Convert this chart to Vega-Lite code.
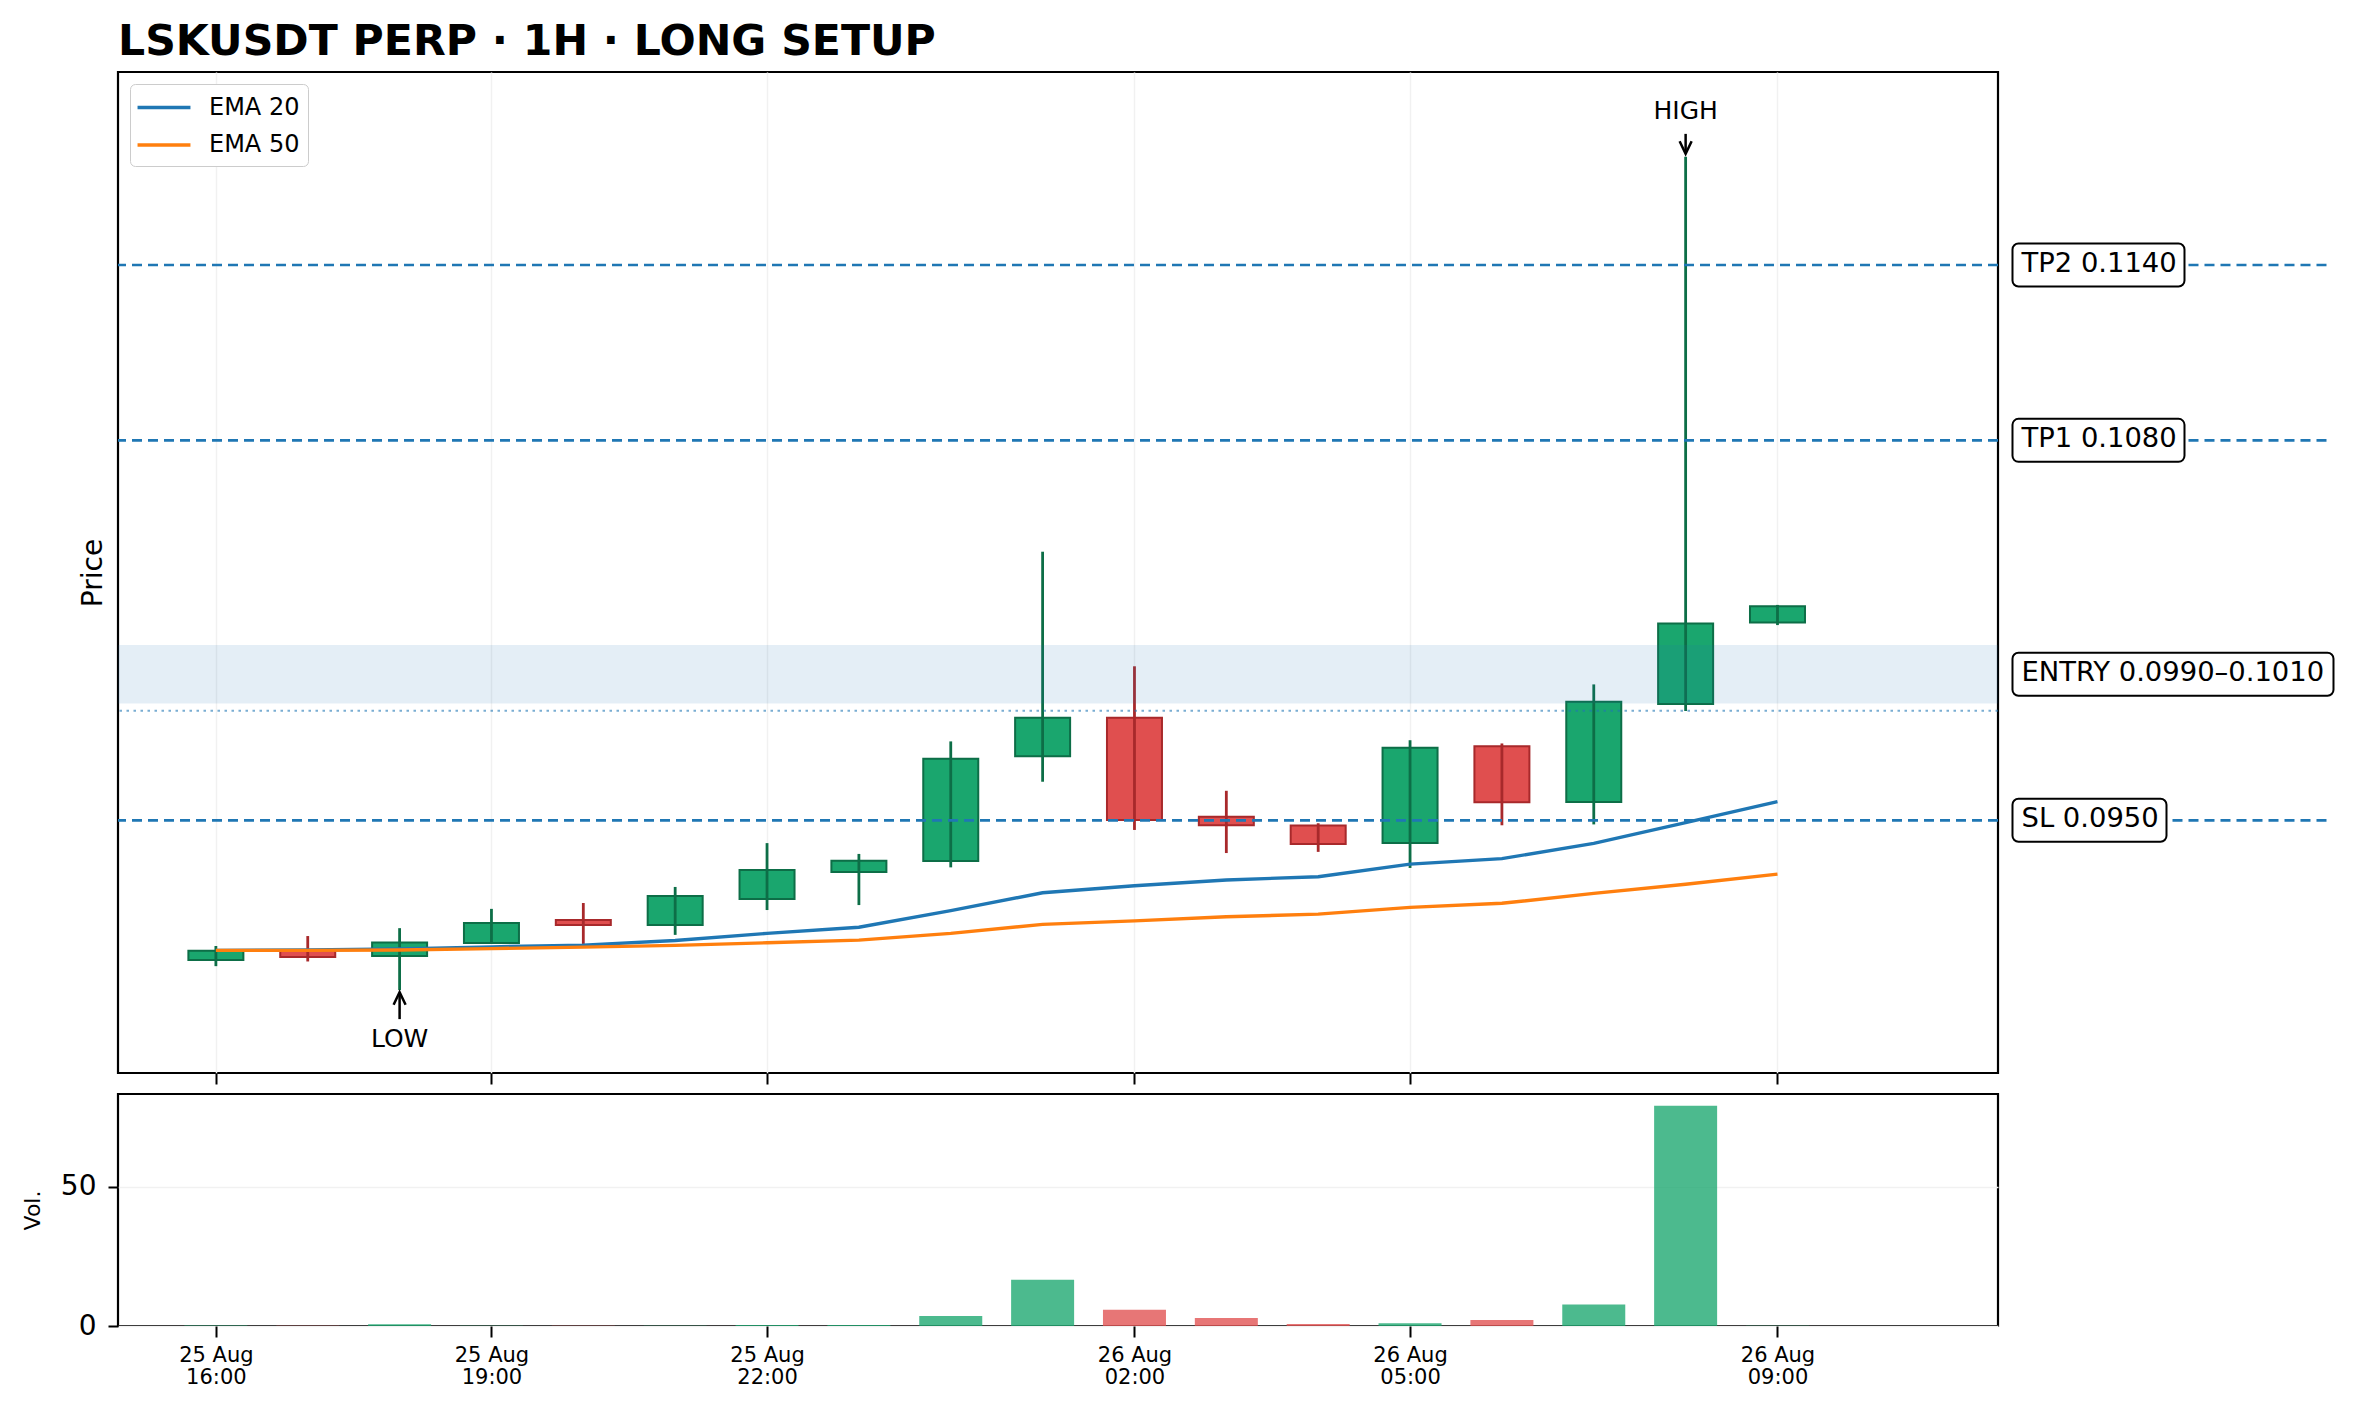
{
  "$schema": "https://vega.github.io/schema/vega-lite/v6.json",
  "background": "white",
  "padding": {"left": 20, "top": 21, "right": 10, "bottom": 10},
  "title": {
    "text": "LSKUSDT PERP · 1H · LONG SETUP",
    "anchor": "start",
    "frame": "group",
    "fontSize": 42.6,
    "fontWeight": "bold",
    "font": "DejaVu Sans",
    "color": "#000000",
    "offset": 7
  },
  "bounds": "flush",
  "spacing": 21,
  "datasets": {
    "candles": [
      {"t": "2025-08-25T16:00:00Z", "open": 0.09022, "high": 0.09070, "low": 0.09001, "close": 0.09054, "vol": 0.15},
      {"t": "2025-08-25T17:00:00Z", "open": 0.09056, "high": 0.09104, "low": 0.09017, "close": 0.09032, "vol": 0.1},
      {"t": "2025-08-25T18:00:00Z", "open": 0.09036, "high": 0.09131, "low": 0.08919, "close": 0.09082, "vol": 0.65},
      {"t": "2025-08-25T19:00:00Z", "open": 0.09080, "high": 0.09197, "low": 0.09077, "close": 0.09149, "vol": 0.1},
      {"t": "2025-08-25T20:00:00Z", "open": 0.09159, "high": 0.09217, "low": 0.09077, "close": 0.09142, "vol": 0.1},
      {"t": "2025-08-25T21:00:00Z", "open": 0.09142, "high": 0.09272, "low": 0.09108, "close": 0.09241, "vol": 0.1},
      {"t": "2025-08-25T22:00:00Z", "open": 0.09231, "high": 0.09422, "low": 0.09193, "close": 0.09330, "vol": 0.35},
      {"t": "2025-08-25T23:00:00Z", "open": 0.09323, "high": 0.09385, "low": 0.09210, "close": 0.09362, "vol": 0.35},
      {"t": "2025-08-26T00:00:00Z", "open": 0.09361, "high": 0.09770, "low": 0.09339, "close": 0.09711, "vol": 3.6},
      {"t": "2025-08-26T01:00:00Z", "open": 0.09719, "high": 0.10419, "low": 0.09632, "close": 0.09851, "vol": 16.6},
      {"t": "2025-08-26T02:00:00Z", "open": 0.09851, "high": 0.10027, "low": 0.09467, "close": 0.09501, "vol": 5.8},
      {"t": "2025-08-26T03:00:00Z", "open": 0.09512, "high": 0.09601, "low": 0.09388, "close": 0.09483, "vol": 2.9},
      {"t": "2025-08-26T04:00:00Z", "open": 0.09482, "high": 0.09490, "low": 0.09392, "close": 0.09419, "vol": 0.7},
      {"t": "2025-08-26T05:00:00Z", "open": 0.09422, "high": 0.09774, "low": 0.09337, "close": 0.09748, "vol": 1.0},
      {"t": "2025-08-26T06:00:00Z", "open": 0.09753, "high": 0.09763, "low": 0.09483, "close": 0.09562, "vol": 2.2},
      {"t": "2025-08-26T07:00:00Z", "open": 0.09563, "high": 0.09965, "low": 0.09486, "close": 0.09906, "vol": 7.7},
      {"t": "2025-08-26T08:00:00Z", "open": 0.09898, "high": 0.11770, "low": 0.09874, "close": 0.10173, "vol": 79.2},
      {"t": "2025-08-26T09:00:00Z", "open": 0.10177, "high": 0.10237, "low": 0.10168, "close": 0.10232, "vol": 0.1}
    ],
    "ema": [
      {"t": "2025-08-25T16:00:00Z", "series": "EMA 20", "value": 0.09055},
      {"t": "2025-08-25T17:00:00Z", "series": "EMA 20", "value": 0.09056},
      {"t": "2025-08-25T18:00:00Z", "series": "EMA 20", "value": 0.09060},
      {"t": "2025-08-25T19:00:00Z", "series": "EMA 20", "value": 0.09067},
      {"t": "2025-08-25T20:00:00Z", "series": "EMA 20", "value": 0.09073},
      {"t": "2025-08-25T21:00:00Z", "series": "EMA 20", "value": 0.09089},
      {"t": "2025-08-25T22:00:00Z", "series": "EMA 20", "value": 0.09113},
      {"t": "2025-08-25T23:00:00Z", "series": "EMA 20", "value": 0.09134},
      {"t": "2025-08-26T00:00:00Z", "series": "EMA 20", "value": 0.09191},
      {"t": "2025-08-26T01:00:00Z", "series": "EMA 20", "value": 0.09252},
      {"t": "2025-08-26T02:00:00Z", "series": "EMA 20", "value": 0.09276},
      {"t": "2025-08-26T03:00:00Z", "series": "EMA 20", "value": 0.09296},
      {"t": "2025-08-26T04:00:00Z", "series": "EMA 20", "value": 0.09307},
      {"t": "2025-08-26T05:00:00Z", "series": "EMA 20", "value": 0.09350},
      {"t": "2025-08-26T06:00:00Z", "series": "EMA 20", "value": 0.09369},
      {"t": "2025-08-26T07:00:00Z", "series": "EMA 20", "value": 0.09421},
      {"t": "2025-08-26T08:00:00Z", "series": "EMA 20", "value": 0.09492},
      {"t": "2025-08-26T09:00:00Z", "series": "EMA 20", "value": 0.09564},
      {"t": "2025-08-25T16:00:00Z", "series": "EMA 50", "value": 0.09055},
      {"t": "2025-08-25T17:00:00Z", "series": "EMA 50", "value": 0.09055},
      {"t": "2025-08-25T18:00:00Z", "series": "EMA 50", "value": 0.09056},
      {"t": "2025-08-25T19:00:00Z", "series": "EMA 50", "value": 0.09061},
      {"t": "2025-08-25T20:00:00Z", "series": "EMA 50", "value": 0.09066},
      {"t": "2025-08-25T21:00:00Z", "series": "EMA 50", "value": 0.09072},
      {"t": "2025-08-25T22:00:00Z", "series": "EMA 50", "value": 0.09081},
      {"t": "2025-08-25T23:00:00Z", "series": "EMA 50", "value": 0.09090},
      {"t": "2025-08-26T00:00:00Z", "series": "EMA 50", "value": 0.09113},
      {"t": "2025-08-26T01:00:00Z", "series": "EMA 50", "value": 0.09144},
      {"t": "2025-08-26T02:00:00Z", "series": "EMA 50", "value": 0.09156},
      {"t": "2025-08-26T03:00:00Z", "series": "EMA 50", "value": 0.09170},
      {"t": "2025-08-26T04:00:00Z", "series": "EMA 50", "value": 0.09179},
      {"t": "2025-08-26T05:00:00Z", "series": "EMA 50", "value": 0.09202},
      {"t": "2025-08-26T06:00:00Z", "series": "EMA 50", "value": 0.09216},
      {"t": "2025-08-26T07:00:00Z", "series": "EMA 50", "value": 0.09250},
      {"t": "2025-08-26T08:00:00Z", "series": "EMA 50", "value": 0.09281},
      {"t": "2025-08-26T09:00:00Z", "series": "EMA 50", "value": 0.09316}
    ],
    "levels": [
      {"label": "TP2 0.1140", "price": 0.1140, "kind": "tp"},
      {"label": "TP1 0.1080", "price": 0.1080, "kind": "tp"},
      {"label": "ENTRY 0.0990–0.1010", "price": 0.1000, "kind": "entry"},
      {"label": "SL 0.0950", "price": 0.0950, "kind": "sl"}
    ],
    "zone": [
      {"lo": 0.0990, "hi": 0.1010, "ref": 0.09875}
    ],
    "extremes": [
      {"t": "2025-08-26T08:00:00Z", "price": 0.11770, "label": "HIGH"},
      {"t": "2025-08-25T18:00:00Z", "price": 0.08919, "label": "LOW"}
    ]
  },
  "vconcat": [
    {
      "width": 1880,
      "height": 1001,
      "layer": [
        {
          "data": {"name": "candles"},
          "mark": {"type": "bar", "width": 55, "strokeWidth": 2},
          "encoding": {
            "x": {
              "field": "t",
              "type": "temporal",
              "scale": {
                "type": "utc",
                "nice": false,
                "domain": [
                  {"year": 2025, "month": 8, "date": 25, "hours": 14, "minutes": 59, "seconds": 20, "utc": true},
                  {"year": 2025, "month": 8, "date": 26, "hours": 11, "minutes": 20, "seconds": 46, "utc": true}
                ]
              },
              "axis": {
                "values": [
                  {"year": 2025, "month": 8, "date": 25, "hours": 16, "utc": true},
                  {"year": 2025, "month": 8, "date": 25, "hours": 19, "utc": true},
                  {"year": 2025, "month": 8, "date": 25, "hours": 22, "utc": true},
                  {"year": 2025, "month": 8, "date": 26, "hours": 2, "utc": true},
                  {"year": 2025, "month": 8, "date": 26, "hours": 5, "utc": true},
                  {"year": 2025, "month": 8, "date": 26, "hours": 9, "utc": true}
                ],
                "labels": false,
                "title": null,
                "domain": false,
                "ticks": true,
                "tickSize": 11,
                "tickWidth": 2,
                "tickColor": "#000000",
                "grid": true,
                "gridColor": "#f1f1f1",
                "gridWidth": 1.5
              }
            },
            "y": {
              "field": "open",
              "type": "quantitative",
              "scale": {"domain": [0.086354, 0.120604], "nice": false, "zero": false},
              "axis": {
                "title": "Price",
                "labels": false,
                "ticks": false,
                "grid": false,
                "domain": false,
                "titleFontSize": 28,
                "titleFontWeight": "normal",
                "titleColor": "#000000",
                "titlePadding": 11
              }
            },
            "y2": {"field": "close"},
            "fill": {"condition": {"test": "datum.close >= datum.open", "value": "#1aa66e"}, "value": "#e04f4f"},
            "stroke": {"condition": {"test": "datum.close >= datum.open", "value": "#0d6e47"}, "value": "#a8292b"}
          }
        },
        {
          "data": {"name": "candles"},
          "mark": {"type": "rule", "strokeWidth": 2.8},
          "encoding": {
            "x": {"field": "t", "type": "temporal"},
            "y": {"field": "low", "type": "quantitative"},
            "y2": {"field": "high"},
            "stroke": {"condition": {"test": "datum.close >= datum.open", "value": "#0d6e47"}, "value": "#a8292b"}
          }
        },
        {
          "data": {"name": "zone"},
          "mark": {"type": "rect", "color": "#1f77b4", "opacity": 0.12},
          "encoding": {
            "x": {"value": 0},
            "x2": {"value": "width"},
            "y": {"field": "lo", "type": "quantitative"},
            "y2": {"field": "hi"}
          }
        },
        {
          "data": {"name": "ema"},
          "mark": {"type": "line", "strokeWidth": 3.4},
          "encoding": {
            "x": {"field": "t", "type": "temporal"},
            "y": {"field": "value", "type": "quantitative"},
            "color": {
              "field": "series",
              "type": "nominal",
              "scale": {"domain": ["EMA 20", "EMA 50"], "range": ["#1f77b4", "#ff7f0e"]},
              "legend": {
                "title": null,
                "orient": "top-left",
                "offset": 12,
                "padding": 8.5,
                "fillColor": "white",
                "strokeColor": "#cccccc",
                "cornerRadius": 5,
                "labelFontSize": 24,
                "labelColor": "#000000",
                "labelOffset": 30,
                "rowPadding": 10.5,
                "symbolType": "M-2,0L2,0",
                "symbolSize": 700,
                "symbolOffset": 10.5,
                "symbolStrokeWidth": 3.5
              }
            }
          }
        },
        {
          "data": {"name": "zone"},
          "mark": {"type": "rule", "color": "#1f77b4", "opacity": 0.6, "strokeWidth": 2, "strokeDash": [2.5, 4.5]},
          "encoding": {
            "y": {"field": "ref", "type": "quantitative"}
          }
        },
        {
          "data": {"name": "levels"},
          "transform": [{"filter": "datum.kind != 'entry'"}],
          "mark": {"type": "rule", "color": "#1f77b4", "strokeWidth": 2.7, "strokeDash": [10, 6]},
          "encoding": {
            "y": {"field": "price", "type": "quantitative"}
          }
        },
        {
          "data": {"name": "levels"},
          "transform": [{"filter": "datum.kind != 'entry'"}],
          "mark": {"type": "rule", "color": "#1f77b4", "strokeWidth": 2.7, "strokeDash": [10, 6]},
          "encoding": {
            "x": {"datum": {"year": 2025, "month": 8, "date": 26, "hours": 11, "minutes": 33, "seconds": 30, "utc": true}, "type": "temporal"},
            "x2": {"datum": {"year": 2025, "month": 8, "date": 26, "hours": 15, "minutes": 2, "utc": true}},
            "y": {"field": "price", "type": "quantitative"}
          }
        },
        {
          "data": {"name": "levels"},
          "transform": [{"filter": "datum.kind == 'tp'"}],
          "mark": {"type": "rect", "fill": "white", "stroke": "#000000", "strokeWidth": 2, "cornerRadius": 6, "x2Offset": 172, "yOffset": -21.5, "y2Offset": 21.5},
          "encoding": {
            "x": {"datum": {"year": 2025, "month": 8, "date": 26, "hours": 11, "minutes": 33, "seconds": 30, "utc": true}, "type": "temporal"},
            "x2": {"datum": {"year": 2025, "month": 8, "date": 26, "hours": 11, "minutes": 33, "seconds": 30, "utc": true}},
            "y": {"field": "price", "type": "quantitative"},
            "y2": {"field": "price"}
          }
        },
        {
          "data": {"name": "levels"},
          "transform": [{"filter": "datum.kind == 'entry'"}],
          "mark": {"type": "rect", "fill": "white", "stroke": "#000000", "strokeWidth": 2, "cornerRadius": 6, "x2Offset": 321, "yOffset": -21.5, "y2Offset": 21.5},
          "encoding": {
            "x": {"datum": {"year": 2025, "month": 8, "date": 26, "hours": 11, "minutes": 33, "seconds": 30, "utc": true}, "type": "temporal"},
            "x2": {"datum": {"year": 2025, "month": 8, "date": 26, "hours": 11, "minutes": 33, "seconds": 30, "utc": true}},
            "y": {"field": "price", "type": "quantitative"},
            "y2": {"field": "price"}
          }
        },
        {
          "data": {"name": "levels"},
          "transform": [{"filter": "datum.kind == 'sl'"}],
          "mark": {"type": "rect", "fill": "white", "stroke": "#000000", "strokeWidth": 2, "cornerRadius": 6, "x2Offset": 154, "yOffset": -21.5, "y2Offset": 21.5},
          "encoding": {
            "x": {"datum": {"year": 2025, "month": 8, "date": 26, "hours": 11, "minutes": 33, "seconds": 30, "utc": true}, "type": "temporal"},
            "x2": {"datum": {"year": 2025, "month": 8, "date": 26, "hours": 11, "minutes": 33, "seconds": 30, "utc": true}},
            "y": {"field": "price", "type": "quantitative"},
            "y2": {"field": "price"}
          }
        },
        {
          "data": {"name": "levels"},
          "mark": {"type": "text", "align": "left", "baseline": "middle", "dx": 9, "dy": -1, "fontSize": 27.4, "font": "DejaVu Sans", "color": "#000000"},
          "encoding": {
            "x": {"datum": {"year": 2025, "month": 8, "date": 26, "hours": 11, "minutes": 33, "seconds": 30, "utc": true}, "type": "temporal"},
            "y": {"field": "price", "type": "quantitative"},
            "text": {"field": "label"}
          }
        },
        {
          "data": {"name": "extremes"},
          "transform": [{"filter": "datum.label == 'HIGH'"}],
          "layer": [
            {
              "mark": {"type": "text", "align": "center", "baseline": "alphabetic", "dy": -38, "fontSize": 25, "font": "DejaVu Sans", "color": "#000000"},
              "encoding": {
                "x": {"field": "t", "type": "temporal"},
                "y": {"field": "price", "type": "quantitative"},
                "text": {"field": "label"}
              }
            },
            {
              "mark": {"type": "rule", "color": "#000000", "strokeWidth": 2.5, "yOffset": -4, "y2Offset": -23},
              "encoding": {
                "x": {"field": "t", "type": "temporal"},
                "y": {"field": "price", "type": "quantitative"},
                "y2": {"field": "price"}
              }
            },
            {
              "mark": {"type": "point", "shape": "M-1,-2.1L0,0L1,-2.1", "filled": false, "size": 144, "stroke": "#000000", "strokeWidth": 2.5, "opacity": 1, "yOffset": -3},
              "encoding": {
                "x": {"field": "t", "type": "temporal"},
                "y": {"field": "price", "type": "quantitative"}
              }
            }
          ]
        },
        {
          "data": {"name": "extremes"},
          "transform": [{"filter": "datum.label == 'LOW'"}],
          "layer": [
            {
              "mark": {"type": "text", "align": "center", "baseline": "alphabetic", "dy": 57, "fontSize": 25, "font": "DejaVu Sans", "color": "#000000"},
              "encoding": {
                "x": {"field": "t", "type": "temporal"},
                "y": {"field": "price", "type": "quantitative"},
                "text": {"field": "label"}
              }
            },
            {
              "mark": {"type": "rule", "color": "#000000", "strokeWidth": 2.5, "yOffset": 3, "y2Offset": 29},
              "encoding": {
                "x": {"field": "t", "type": "temporal"},
                "y": {"field": "price", "type": "quantitative"},
                "y2": {"field": "price"}
              }
            },
            {
              "mark": {"type": "point", "shape": "M-1,2.1L0,0L1,2.1", "filled": false, "size": 144, "stroke": "#000000", "strokeWidth": 2.5, "opacity": 1, "yOffset": 2},
              "encoding": {
                "x": {"field": "t", "type": "temporal"},
                "y": {"field": "price", "type": "quantitative"}
              }
            }
          ]
        }
      ]
    },
    {
      "width": 1880,
      "height": 232,
      "data": {"name": "candles"},
      "mark": {"type": "bar", "width": 63, "opacity": 0.78},
      "encoding": {
        "x": {
          "field": "t",
          "type": "temporal",
          "scale": {
            "type": "utc",
            "nice": false,
            "domain": [
              {"year": 2025, "month": 8, "date": 25, "hours": 14, "minutes": 59, "seconds": 20, "utc": true},
              {"year": 2025, "month": 8, "date": 26, "hours": 11, "minutes": 20, "seconds": 46, "utc": true}
            ]
          },
          "axis": {
            "values": [
              {"year": 2025, "month": 8, "date": 25, "hours": 16, "utc": true},
              {"year": 2025, "month": 8, "date": 25, "hours": 19, "utc": true},
              {"year": 2025, "month": 8, "date": 25, "hours": 22, "utc": true},
              {"year": 2025, "month": 8, "date": 26, "hours": 2, "utc": true},
              {"year": 2025, "month": 8, "date": 26, "hours": 5, "utc": true},
              {"year": 2025, "month": 8, "date": 26, "hours": 9, "utc": true}
            ],
            "labelExpr": "[utcFormat(datum.value, '%d %b'), utcFormat(datum.value, '%H:%M')]",
            "title": null,
            "domain": false,
            "grid": false,
            "tickSize": 11,
            "tickWidth": 2,
            "tickColor": "#000000",
            "labelPadding": 7,
            "labelFontSize": 21,
            "labelLineHeight": 22,
            "labelColor": "#000000",
            "labelFlush": false,
            "labelOverlap": false
          }
        },
        "y": {
          "field": "vol",
          "type": "quantitative",
          "scale": {"domain": [0, 83.4], "nice": false},
          "axis": {
            "values": [0, 50],
            "title": "Vol.",
            "titleFontSize": 22,
            "titleFontWeight": "normal",
            "titleColor": "#000000",
            "titlePadding": 16,
            "labelFontSize": 28,
            "labelColor": "#000000",
            "labelPadding": 12,
            "tickSize": 10,
            "tickWidth": 2,
            "tickColor": "#000000",
            "domain": false,
            "grid": true,
            "gridColor": "#f1f1f1",
            "gridWidth": 1.5
          }
        },
        "fill": {"condition": {"test": "datum.close >= datum.open", "value": "#1aa66e"}, "value": "#e04f4f"}
      }
    }
  ],
  "config": {
    "font": "DejaVu Sans",
    "view": {"stroke": "#000000", "strokeWidth": 2.2}
  }
}
